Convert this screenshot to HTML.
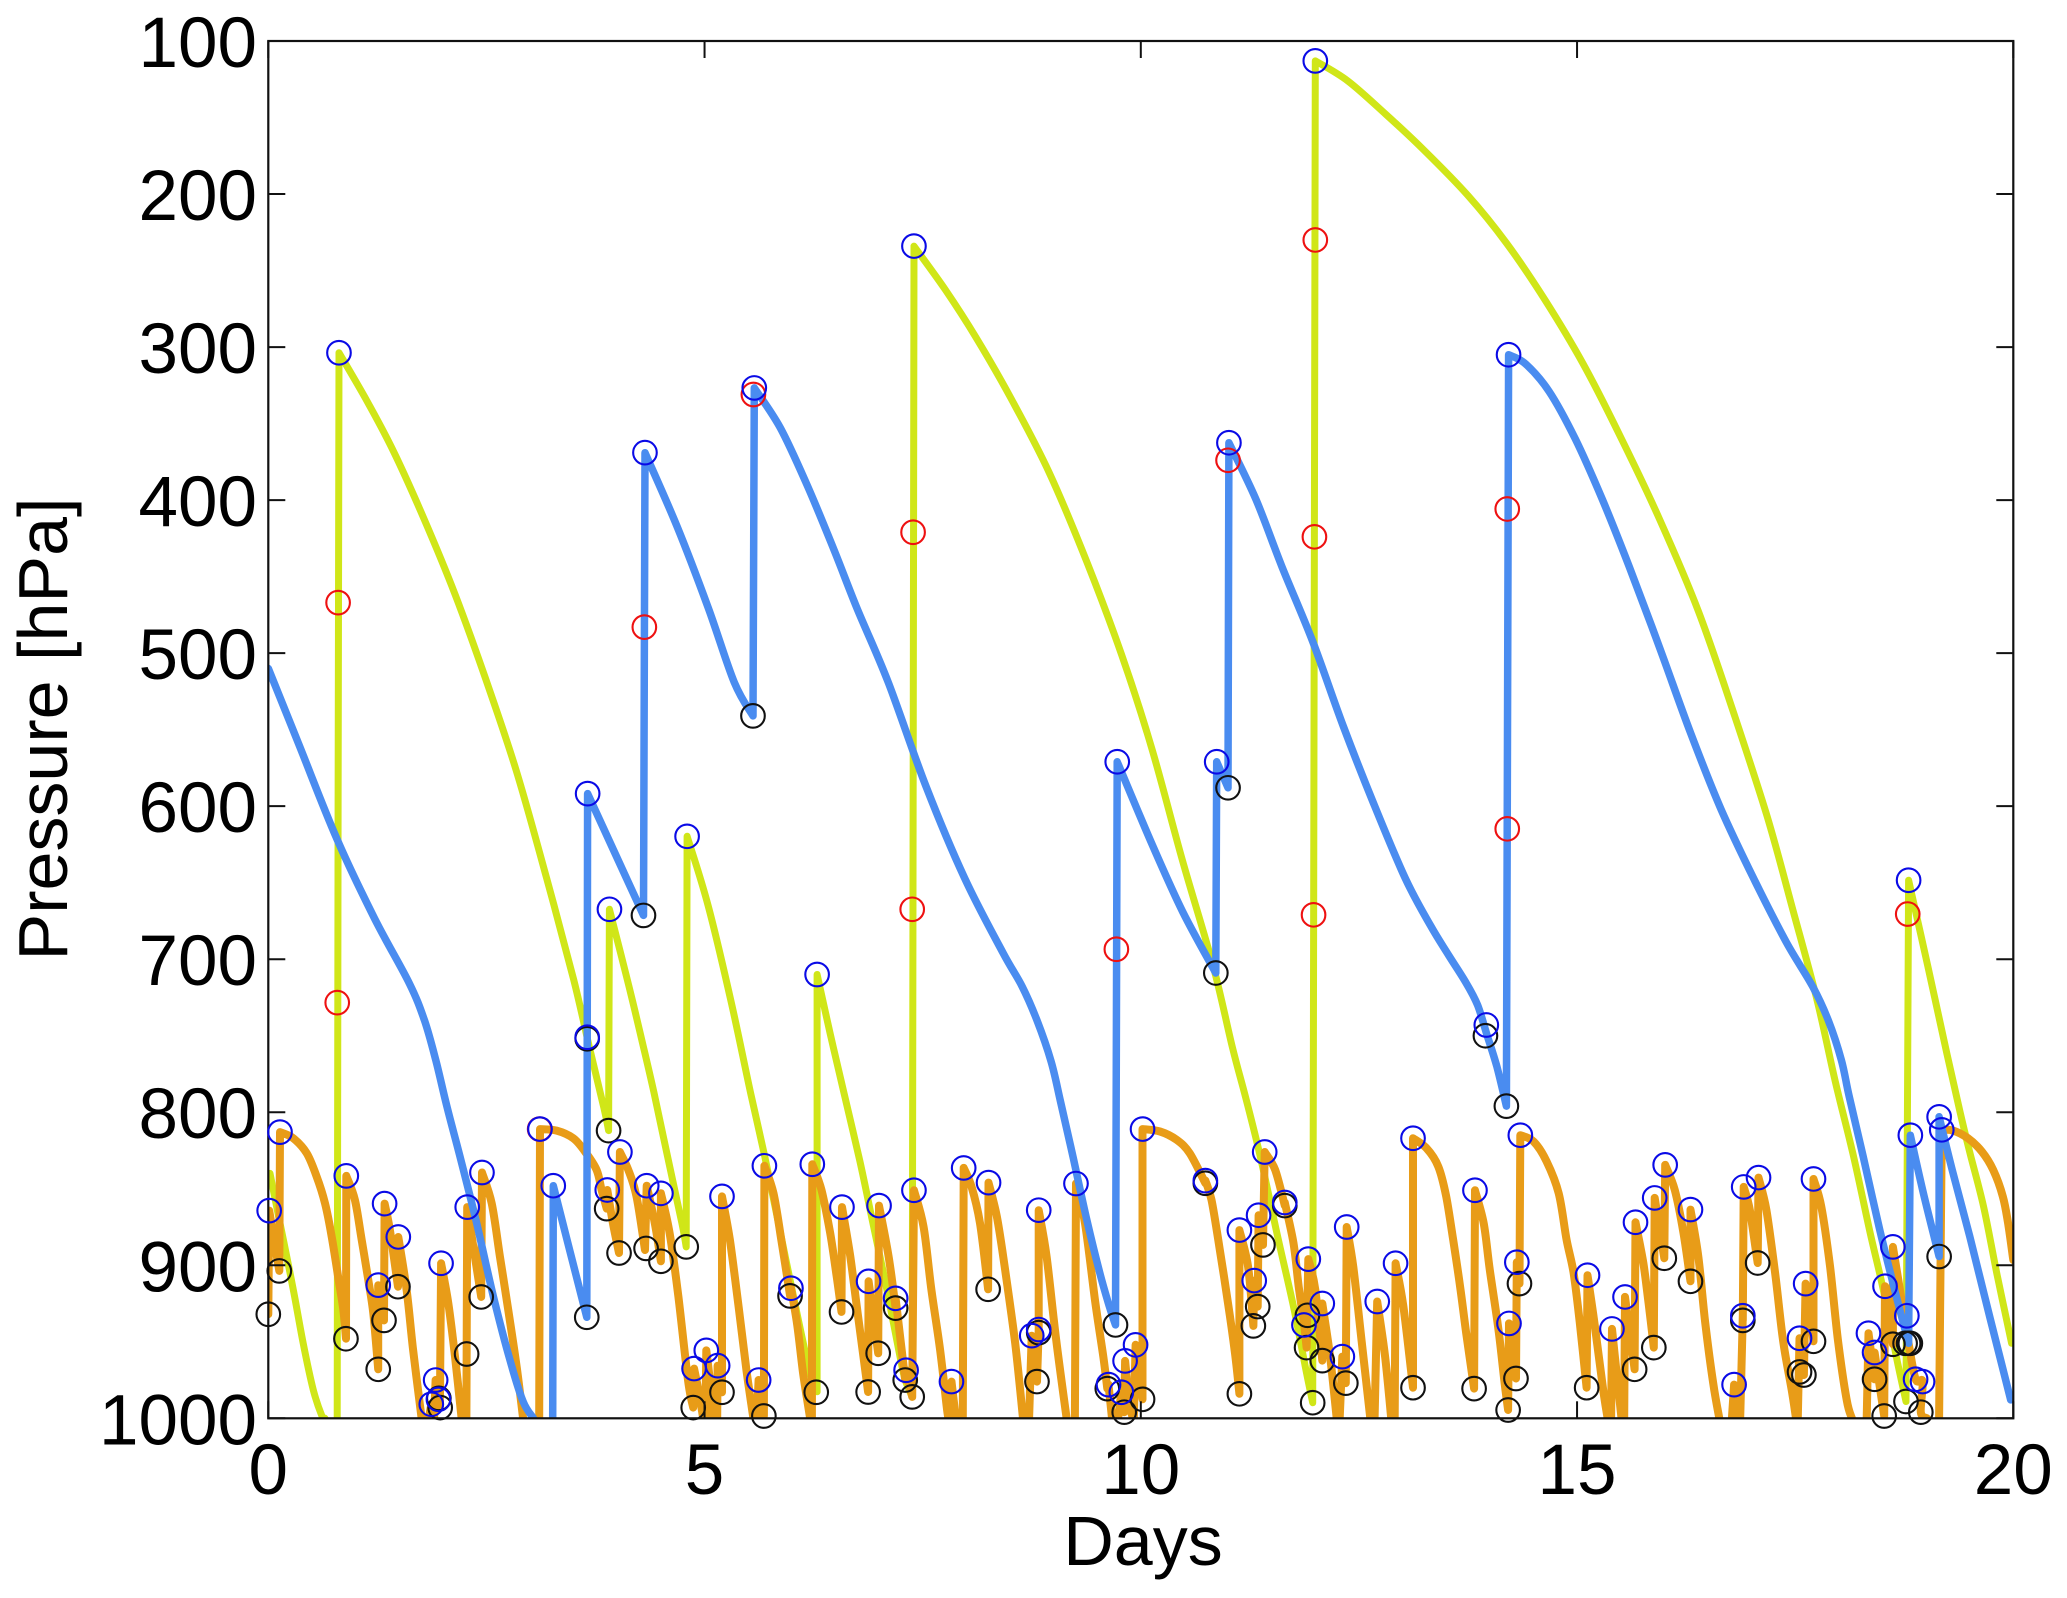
<!DOCTYPE html>
<html lang="en">
<head>
<meta charset="utf-8">
<title>Pressure vs Days</title>
<style>
html,body{margin:0;padding:0;background:#fff;}
svg{display:block;font-family:"Liberation Sans",Arial,sans-serif;}
</style>
</head>
<body>
<svg id="chart" width="2067" height="1598" viewBox="0 0 2067 1598" xmlns="http://www.w3.org/2000/svg">
  <defs><clipPath id="plot-clip"><rect x="268.3" y="41" width="1745" height="1377.3"></rect></clipPath></defs>
  <rect x="0" y="0" width="2067" height="1598" fill="#ffffff"></rect>
  <g id="lines" clip-path="url(#plot-clip)"></g>
  <g id="axes"></g>
  <g id="markers"></g>
  <text x="1143" y="1565" font-size="70" text-anchor="middle" fill="#000">Days</text>
  <text transform="translate(67,729) rotate(-90)" font-size="70" text-anchor="middle" fill="#000">Pressure [hPa]</text>
</svg>
<script>
const xTickLabels = [0, 5, 10, 15, 20];
const yTickLabels = [100, 200, 300, 400, 500, 600, 700, 800, 900, 1000];

// Each series: [day, hPa] samples, null marks a break in the line.
const yellowTrack = [
  [0.02,840],[0.095,861.6],[0.172,883],[0.287,916],[0.40,951],[0.516,981.5],[0.61,997.8],[0.65,1000],null,
  [0.79,1000],[0.80,600],[0.81,303.7],[1.133,335.5],[1.44,368.7],[1.79,413],[2.14,461.5],[2.49,516.7],[2.84,576.4],[3.19,647],[3.5,713.4],[3.68,757.6],[3.85,798],[3.9,812],
  [3.91,667.4],[4.115,713.4],[4.29,755],[4.42,787],[4.565,826],[4.74,872.5],[4.79,888],
  [4.8,619.7],[5.04,664.7],[5.3,726.6],[5.53,788],[5.69,829],[5.87,879],[6.05,929],[6.21,970.6],[6.29,982.6],
  [6.29,710],[6.44,748.7],[6.6,788],[6.78,832],[6.93,872.5],[7.09,916],[7.24,959.7],[7.3,975],[7.38,986],
  [7.40,234],[7.76,262.6],[8.11,293.6],[8.51,333.3],[8.95,382],[9.39,441.6],[9.78,501],[10.13,563],[10.48,636],[10.83,704.5],[11.05,757.6],[11.2,790],[11.37,829],[11.56,879],[11.75,927],[11.9,970.6],[11.97,989.8],
  [12.0,113],[12.37,126],[12.81,148],[13.24,171],[13.75,201],[14.19,232],[14.63,269],[15.07,311],[15.51,360],[15.95,413],[16.39,472.5],[16.78,536.6],[17.18,607],[17.48,669],[17.75,726.6],[17.96,780],[18.17,829],[18.36,879],[18.51,916],[18.66,960],[18.77,989],
  [18.8,648.4],[19.02,704.5],[19.24,762],[19.39,800],[19.5,826],[19.66,861.7],[19.81,905],[19.98,951]
];
const blueTrack = [
  [0,510],[0.344,558.7],[0.78,620.6],[1.22,673.6],[1.615,715.6],[1.79,740],[1.92,766],[2.05,797],[2.197,829],[2.388,872.5],[2.58,920.5],[2.77,962],[2.92,989],[3.04,1000],null,
  [3.26,1000],[3.266,848],[3.65,934],[3.66,591.8],[4.30,671.4],[4.317,369],[4.685,417.3],[5.04,470],[5.34,519],[5.555,541],
  [5.57,326.7],[5.87,353],[6.18,390.8],[6.48,432],[6.75,471],[7.105,519],[7.54,587.4],[7.98,647],[8.42,695.7],[8.64,717.8],[8.81,740],[8.97,766.4],[9.08,793],[9.226,830],[9.38,870],[9.53,905],[9.64,927],[9.71,939],
  [9.73,571],[10.13,625],[10.48,669],[10.86,709],[10.87,571],[11.0,588],[11.01,362.5],[11.32,399.6],[11.62,443.8],[11.97,492.4],[12.32,547.6],[12.67,598.5],[13.03,647],[13.32,678],[13.535,698],[13.73,715.6],[13.86,730],[13.96,748],[14.08,770],[14.19,796],
  [14.215,305],[14.41,311],[14.68,329],[14.98,360],[15.29,399.6],[15.6,443.8],[15.95,497],[16.3,552],[16.65,602],[17.04,649],[17.4,689],[17.7,717.8],[17.88,740],[18.03,766],[18.12,790],[18.28,829],[18.47,877],[18.66,920.5],[18.8,951],
  [18.82,815],[18.97,853],[19.15,894.3],[19.15,803],[19.3,837.7],[19.5,881],[19.73,933.6],[19.97,988]
];
const orangeTrack = [
  [0,932],[0.01,864.3],[0.126,903.7],[0.134,813],[0.287,817],[0.44,826.8],[0.554,842],[0.65,859.5],[0.726,881],[0.80,907.4],[0.86,929],[0.89,948],
  [0.894,841.6],[0.993,857.3],[1.07,883.4],[1.146,909.6],[1.203,931.4],[1.26,968],[1.26,913],[1.326,936],[1.333,859.7],[1.394,877],[1.486,914],[1.49,881.5],[1.585,916],[1.66,955.3],[1.757,1000],null,
  [1.84,1000],[1.868,990.8],[1.895,1000],null,
  [1.90,1000],[1.918,975],[1.967,992],[1.98,898.7],[2.063,924.8],[2.14,959.7],[2.216,1000],null,
  [2.27,1000],[2.28,862],[2.35,887.8],[2.44,920.7],[2.449,839.4],[2.56,859.5],[2.655,894.3],[2.75,929],[2.846,966],[2.92,1000],null,
  [3.105,1000],[3.114,811],[3.305,812],[3.496,817],[3.63,825.7],[3.763,837.7],[3.82,850.8],[3.878,863],[3.885,850.8],[3.95,872.5],[4.02,892],[4.03,826],[4.126,837.7],[4.22,855],[4.317,890],[4.337,848],[4.43,872.5],[4.5,897.4],[4.5,853],[4.60,879],[4.70,920.5],[4.81,975],[4.87,993],[4.88,967.5],[4.93,981.5],[4.985,1000],null,
  [5.01,1000],[5.02,955.6],[5.06,975],[5.1,1000],null,
  [5.145,1000],[5.15,965.6],[5.2,983],[5.2,855],[5.29,883.4],[5.39,927],[5.48,968.4],[5.56,1000],null,
  [5.6,1000],[5.62,975],[5.68,998.5],[5.686,835],[5.79,853],[5.88,883.4],[5.98,920],[5.99,915],[6.06,938],[6.13,970.6],[6.21,1000],null,
  [6.23,1000],[6.235,834],[6.34,850.8],[6.44,879],[6.515,907.4],[6.57,930.5],[6.575,862],[6.67,894.3],[6.76,933.5],[6.875,982.8],[6.88,910.5],[6.99,957.5],[7.0,861],[7.11,894.3],[7.19,928],[7.19,921.6],[7.3,975],[7.31,968.6],[7.38,986],[7.40,851],[7.51,874.7],[7.6,916],[7.7,955.3],[7.78,994.6],[7.8,1000],null,
  [7.82,1000],[7.83,976],[7.88,1000],null,
  [7.96,1000],[7.97,836.4],[8.06,848.6],[8.157,872.5],[8.25,915.7],[8.255,846],[8.35,868],[8.44,901],[8.56,951],[8.65,1000],null,
  [8.72,1000],[8.75,946],[8.81,976],[8.83,942],[8.83,864],[8.92,894.3],[9.03,948.8],[9.15,1000],null,
  [9.245,1000],[9.257,846.6],[9.36,872.5],[9.48,924.8],[9.57,959.7],[9.616,980.6],[9.63,978],[9.67,1000],null,
  [9.74,1000],[9.777,983],[9.81,996],[9.82,962.5],[9.876,992.4],[9.915,1000],null,
  [9.92,1000],[9.94,952],[10.02,987.6],[10.02,811],[10.22,812.6],[10.41,818],[10.56,826.8],[10.74,846.4],[10.74,844.7],[10.81,857.3],[10.9,887.8],[11.0,924.8],[11.08,957.5],[11.13,984],[11.13,877],[11.23,901],[11.29,939.6],[11.3,910],[11.34,927],[11.35,867.3],[11.4,886.7],[11.42,826],[11.54,837.7],[11.65,861],[11.65,859],[11.75,885.6],[11.81,914],[11.87,938],[11.9,953.8],[11.92,896],[12.0,916],[12.08,962.3],[12.08,925],[12.17,959.7],[12.245,1000],null,
  [12.28,1000],[12.31,959.7],[12.35,977],[12.36,875],[12.435,901],[12.53,948.8],[12.63,1000],null,
  [12.68,1000],[12.71,923.7],[12.8,959.7],[12.87,1000],null,
  [12.91,1000],[12.92,898.7],[13.01,927],[13.12,980],[13.12,817],[13.275,823.5],[13.41,835.5],[13.5,855],[13.58,883.4],[13.66,914],[13.73,944.4],[13.82,980.6],[13.83,851],[13.93,872.5],[14.0,903],[14.1,942.3],[14.17,977],[14.21,994.6],[14.22,938],[14.3,974],[14.31,898],[14.34,912],[14.35,815],[14.5,819],[14.65,832],[14.79,853],[14.88,883.4],[14.96,905],[15.03,937],[15.11,980],[15.12,906.5],[15.2,938],[15.3,981.5],[15.35,1000],null,
  [15.39,1000],[15.4,941.6],[15.45,968.4],[15.51,1000],null,
  [15.54,1000],[15.55,920.7],[15.66,968],[15.67,871.9],[15.76,898.7],[15.82,924.8],[15.88,953.8],[15.89,856],[16.0,895.4],[16.01,834.4],[16.12,850.8],[16.22,879],[16.3,910.5],[16.3,863.6],[16.39,894.3],[16.47,938],[16.56,977],[16.63,1000],null,
  [16.775,1000],[16.8,978],[16.85,1000],null,
  [16.87,1000],[16.9,933],[16.9,936],[16.91,848.8],[16.98,863.8],[17.07,898.5],[17.08,842.7],[17.17,863.8],[17.27,905],[17.36,948.8],[17.46,981.5],[17.51,1000],null,
  [17.53,1000],[17.55,947.7],[17.6,971.7],[17.62,912],[17.71,949.7],[17.71,843.6],[17.8,861.7],[17.9,901],[17.99,948.8],[18.09,988],[18.15,1000],null,
  [18.32,1000],[18.34,944.4],[18.41,974.5],[18.41,957],[18.52,998.5],[18.53,913.7],[18.62,951.6],[18.62,888],[18.7,916],[18.8,951],[18.88,974.5],[18.96,976],[18.94,996],[19.01,1000],null,
  [19.15,1000],[19.18,811.5],[19.31,812],[19.48,817],[19.64,825.7],[19.77,837.7],[19.88,855],[19.94,872.5],[20.0,896.6]
];

const redMarkers = [
  [0.80,467],[0.79,728.4],[3.11,811],[4.31,483],[5.56,331],[7.39,421],[7.38,667.4],[9.72,693.5],[11.0,374],[12.0,230],[11.99,424],[11.98,671],[14.2,405.8],[14.2,614.8],[18.79,670.5]
];
const blackMarkers = [
  [0,932],[0.126,903.7],[0.89,948],[1.26,968],[1.326,936],[1.486,914],[1.955,987],[1.97,993],[2.273,958],[2.44,920.7],[3.65,934],[3.655,752],[3.878,863],[3.9,812],[4.02,892],[4.30,671.4],[4.33,889],[4.5,897.4],[4.79,888],[4.87,993],[5.2,983],[5.555,541],[5.68,998.5],[5.98,920],[6.28,983],[6.57,930.5],[6.875,982.8],[6.99,957.5],[7.19,928],[7.3,975],[7.38,986],
  [8.25,915.7],[8.83,944],[8.81,976],[9.616,980.6],[9.71,939],[9.81,996],[10.02,987.6],[10.74,846.4],[10.86,709],[11.0,588],[11.13,984],[11.29,939.6],[11.34,927],[11.4,886.7],[11.65,861],[11.91,932.7],[11.9,953.8],[11.97,989.8],[12.08,962.3],[12.35,977],[13.12,980],[13.82,980.6],[13.95,750],[14.19,796],[14.21,994.6],[14.3,974],[14.34,912],
  [15.11,980],[15.66,968],[15.88,953.8],[16.0,895.4],[16.3,910.5],[16.9,936],[17.07,898.5],[17.55,969.7],[17.6,971.7],[17.71,949.7],[18.41,974.5],[18.52,998.5],[18.62,951.6],[18.76,951],[18.8,951],[18.82,951],[18.77,989],[18.94,996],[19.15,894.3]
];
const blueMarkers = [
  [0.81,303.7],[3.66,591.8],[4.317,369],[5.57,326.7],[3.91,667.4],[4.8,619.7],[6.29,710],[7.40,234],[9.73,571],[10.87,571],[11.01,362.5],[12.0,113],[14.215,305],[18.8,648.4],[3.655,751],[13.96,743],[18.82,815],[19.15,803],[18.78,933],[3.266,848],
  [0.01,864.3],[0.134,813],[0.894,841.6],[1.26,913],[1.333,859.7],[1.49,881.5],[1.868,990.8],[1.95,987.6],[1.918,975],[1.98,898.7],[2.28,862],[2.449,839.4],[3.114,811],[3.885,850.8],[4.03,826],[4.337,848],[4.5,853],[4.88,967.5],[5.02,955.6],[5.15,965.6],[5.2,855],[5.62,975],[5.686,835],[5.99,915],[6.235,834],[6.575,862],[6.88,910.5],[7.0,861],[7.19,921.6],[7.31,968.6],[7.40,851],[7.83,976],[7.97,836.4],
  [8.255,846],[8.75,946],[8.83,942],[8.83,864],[9.257,846.6],[9.63,978],[9.777,983],[9.82,962.5],[9.94,952],[10.02,811],[10.74,844.7],[11.13,877],[11.3,910],[11.35,867.3],[11.42,826],[11.65,859],[11.87,939],[11.92,896],[12.08,925],[12.31,959.7],[12.36,875],[12.71,923.7],[12.92,898.7],[13.12,817],[13.83,851],[14.22,938],[14.31,898],[14.35,815],
  [15.12,906.5],[15.4,941.6],[15.55,920.7],[15.67,871.9],[15.89,856],[16.01,834.4],[16.3,863.6],[16.8,978],[16.9,933],[16.91,848.8],[17.08,842.7],[17.55,947.7],[17.62,912],[17.71,843.6],[18.34,944.4],[18.41,957],[18.53,913.7],[18.62,888],[18.88,974.5],[18.96,976],[19.18,811.5]
];

const SVG_NS = 'http://www.w3.org/2000/svg';
const xAxis = function (day) { return 268.3 + day * (1745 / 20); };
const yAxis = function (hPa) { return 41 + (hPa - 100) * (1377.3 / 900); };

function svgEl(tag, parent) {
  const el = document.createElementNS(SVG_NS, tag);
  parent.appendChild(el);
  return el;
}

// Descending runs are drawn as smooth curves through the samples; ascents stay straight.
function smoothRun(pts) {
  let d = '';
  for (let i = 0; i < pts.length - 1; i++) {
    const p0 = pts[Math.max(i - 1, 0)];
    const p1 = pts[i];
    const p2 = pts[i + 1];
    const p3 = pts[Math.min(i + 2, pts.length - 1)];
    const c1x = p1[0] + (p2[0] - p0[0]) / 6;
    const c1y = p1[1] + (p2[1] - p0[1]) / 6;
    const c2x = p2[0] - (p3[0] - p1[0]) / 6;
    const c2y = p2[1] - (p3[1] - p1[1]) / 6;
    d += 'C' + c1x.toFixed(1) + ' ' + c1y.toFixed(1) + ' ' + c2x.toFixed(1) + ' ' + c2y.toFixed(1) + ' ' + p2[0].toFixed(1) + ' ' + p2[1].toFixed(1);
  }
  return d;
}

function pathFrom(track) {
  let d = '';
  let run = [];
  function flush() {
    if (run.length > 1) d += smoothRun(run);
    run = [];
  }
  let prev = null;
  track.forEach(function (pt) {
    if (pt === null) { flush(); prev = null; return; }
    const cur = [xAxis(pt[0]), yAxis(pt[1])];
    if (prev === null) {
      d += 'M' + cur[0].toFixed(1) + ' ' + cur[1].toFixed(1);
      run = [cur];
    } else if (cur[1] < prev[1]) {
      flush();
      d += 'L' + cur[0].toFixed(1) + ' ' + cur[1].toFixed(1);
      run = [cur];
    } else {
      run.push(cur);
    }
    prev = cur;
  });
  flush();
  return d;
}

const linesGroup = document.getElementById('lines');
const yellowLine = svgEl('path', linesGroup);


yellowLine.setAttribute('d', pathFrom(yellowTrack));
yellowLine.setAttribute('stroke', '#d0e618');
yellowLine.setAttribute('stroke-width', '7');
yellowLine.setAttribute('fill', 'none');
yellowLine.setAttribute('stroke-linejoin', 'round');
yellowLine.setAttribute('stroke-linecap', 'round');

const orangeLine = svgEl('path', linesGroup);


orangeLine.setAttribute('d', pathFrom(orangeTrack));
orangeLine.setAttribute('stroke', '#e89c18');
orangeLine.setAttribute('stroke-width', '8');
orangeLine.setAttribute('fill', 'none');
orangeLine.setAttribute('stroke-linejoin', 'round');
orangeLine.setAttribute('stroke-linecap', 'round');

const blueLine = svgEl('path', linesGroup);


blueLine.setAttribute('d', pathFrom(blueTrack));
blueLine.setAttribute('stroke', '#4a8cf0');
blueLine.setAttribute('stroke-width', '7.5');
blueLine.setAttribute('fill', 'none');
blueLine.setAttribute('stroke-linejoin', 'round');
blueLine.setAttribute('stroke-linecap', 'round');

const axesGroup = document.getElementById('axes');
const frame = svgEl('rect', axesGroup);


frame.setAttribute('x', xAxis(0));
frame.setAttribute('y', yAxis(100));
frame.setAttribute('width', xAxis(20) - xAxis(0));
frame.setAttribute('height', yAxis(1000) - yAxis(100));
frame.setAttribute('fill', 'none');
frame.setAttribute('stroke', '#111');
frame.setAttribute('stroke-width', '2.2');

function tick(x1, y1, x2, y2) {
  const t = svgEl('line', axesGroup);
  
  
  t.setAttribute('x1', x1);
  t.setAttribute('y1', y1);
  t.setAttribute('x2', x2);
  t.setAttribute('y2', y2);
  t.setAttribute('stroke', '#111');
  t.setAttribute('stroke-width', '2');
}

xTickLabels.forEach(function (v) {
  const x = xAxis(v);
  tick(x, yAxis(1000), x, yAxis(1000) - 17);
  tick(x, yAxis(100), x, yAxis(100) + 17);
  const label = svgEl('text', axesGroup);
  
  
  label.setAttribute('x', x);
  label.setAttribute('y', 1494);
  label.setAttribute('font-size', '71');
  label.setAttribute('text-anchor', 'middle');
  label.textContent = String(v);
});

yTickLabels.forEach(function (v) {
  const y = yAxis(v);
  tick(xAxis(0), y, xAxis(0) + 17, y);
  tick(xAxis(20), y, xAxis(20) - 17, y);
  const label = svgEl('text', axesGroup);
  
  
  label.setAttribute('x', 257);
  label.setAttribute('y', y + 26);
  label.setAttribute('font-size', '71');
  label.setAttribute('text-anchor', 'end');
  label.textContent = String(v);
});

const markersGroup = document.getElementById('markers');
function drawMarkers(list, color, name) {
  list.forEach(function (pt) {
    const c = svgEl('circle', markersGroup);
    
    
    c.setAttribute('cx', xAxis(pt[0]));
    c.setAttribute('cy', yAxis(pt[1]));
    c.setAttribute('r', '11.8');
    c.setAttribute('fill', 'none');
    c.setAttribute('stroke', color);
    c.setAttribute('stroke-width', '2.1');
  });
}
drawMarkers(redMarkers, '#ee1111', 'red-marker');
drawMarkers(blackMarkers, '#111111', 'black-marker');
drawMarkers(blueMarkers, '#0a0ae6', 'blue-marker');
</script>
</body>
</html>
